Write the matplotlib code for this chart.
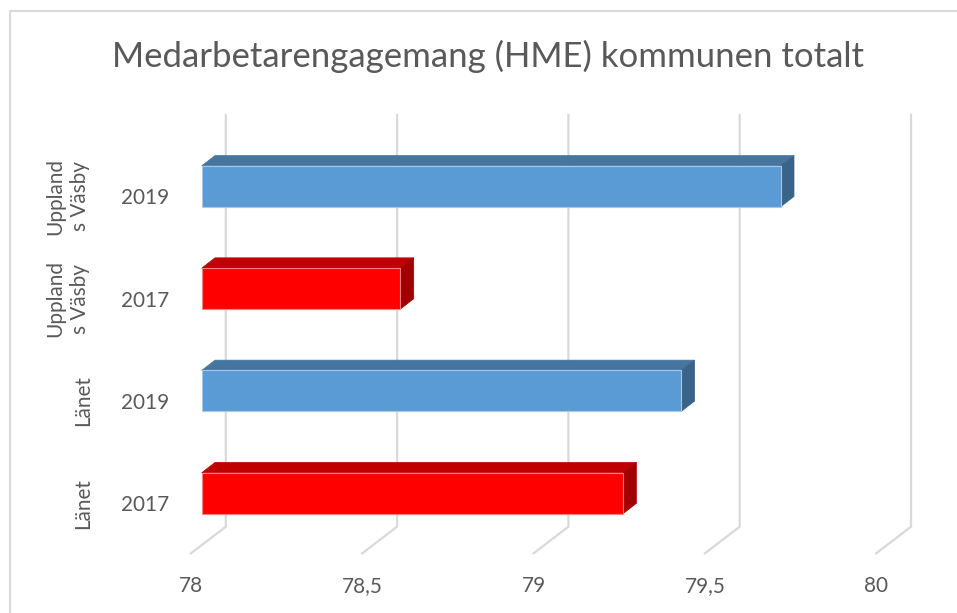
import matplotlib
matplotlib.use("Agg")
import matplotlib.pyplot as plt
from matplotlib.patches import Polygon
from matplotlib.lines import Line2D
import matplotlib.transforms as mtransforms

# ---------------- data ----------------
title = "Medarbetarengagemang (HME) kommunen totalt"
groups = ["Uppland\ns Väsby", "Uppland\ns Väsby", "Länet", "Länet"]
years = ["2019", "2017", "2019", "2017"]
values = [79.69, 78.58, 79.40, 79.23]
xticks = [78, 78.5, 79, 79.5, 80]
xtick_labels = ["78", "78,5", "79", "79,5", "80"]

# ---------------- style ----------------
FONT = "Lato"
TXT = "#595959"
GRID = "#D9D9D9"
front_cols = {"2019": "#5B9BD5", "2017": "#FF0000"}
top_cols = {"2019": "#4675A0", "2017": "#C00000"}
side_cols = {"2019": "#396389", "2017": "#A20000"}
edge_cols = {"2019": "#A9C8E8", "2017": "#FF8080"}

W, H = 957, 613
fig = plt.figure(figsize=(W / 100, H / 100), dpi=100)
ax = fig.add_axes([0, 0, 1, 1])
ax.set_axis_off()

# pixel geometry of the Excel 3-D plot area
PX_PER_UNIT = 342.6        # px per value unit
PX_PER_CAT = 102.3         # px per category step
X78_PX = 201.7             # x pixel of 78 on bar front plane
CAT0_PX = 186.3            # y pixel of first category centre
x0 = 78 - X78_PX / PX_PER_UNIT
ax.set_xlim(x0, x0 + W / PX_PER_UNIT)
ytop = -CAT0_PX / PX_PER_CAT
ax.set_ylim(ytop + H / PX_PER_CAT, ytop)

def dxu(px):
    return px / PX_PER_UNIT

def dyu(px):
    return px / PX_PER_CAT

base = 78
half = 0.2
ddx, ddy = dxu(13.3), dyu(10.3)          # bar depth
wall_dx = dxu(24.1)                       # back wall offset from bar front
floor_dx = dxu(-10.7)                     # floor front offset
grid_top = ytop + dyu(115)
grid_bot = ytop + dyu(526.7)
floor_front = ytop + dyu(553.3)

# gridlines (back wall + floor)
for v in xticks:
    ax.plot([v + wall_dx, v + wall_dx, v + floor_dx],
            [grid_top, grid_bot, floor_front],
            color=GRID, lw=1.6, solid_joinstyle="miter", zorder=1)

# bars
for i, (v, yr) in enumerate(zip(values, years)):
    yt, yb = i - half, i + half
    ax.barh(i, v - base, left=base, height=2 * half, color=front_cols[yr],
            edgecolor=edge_cols[yr], linewidth=0.8, zorder=3)
    top = Polygon([(base, yt), (v, yt), (v + ddx, yt - ddy), (base + ddx, yt - ddy)],
                  closed=True, facecolor=top_cols[yr], edgecolor=top_cols[yr],
                  linewidth=0.5, zorder=2)
    side = Polygon([(v, yt), (v, yb), (v + ddx, yb - ddy), (v + ddx, yt - ddy)],
                   closed=True, facecolor=side_cols[yr], edgecolor=side_cols[yr],
                   linewidth=0.5, zorder=2)
    ax.add_patch(top)
    ax.add_patch(side)

renderer = fig.canvas.get_renderer()

def fit_size(s, target_px, start=12, **kw):
    t = fig.text(0, 0, s, fontsize=start, family=FONT, **kw)
    w = t.get_window_extent(renderer).width
    t.remove()
    return start * target_px / w

small = fit_size("2019", 48)
title_fs = fit_size(title, 749)

# title
fig.text(487.5 / W, 1 - 67 / H, title, ha="center", va="baseline",
         fontsize=title_fs, color=TXT, family=FONT)

# x tick labels (at floor front)
for v, lab in zip(xticks, xtick_labels):
    ax.text(v + floor_dx, ytop + dyu(592), lab, ha="center", va="baseline",
            fontsize=small, color=TXT, family=FONT)

# category labels
bt = mtransforms.blended_transform_factory(fig.transFigure, ax.transData)
for i, (g, yr) in enumerate(zip(groups, years)):
    ax.text(145 / W, i + dyu(18), yr, transform=bt, ha="center", va="baseline",
            fontsize=small, color=TXT, family=FONT)
    gx = 68 if "\n" in g else 83
    ax.text(gx / W, i + dyu(10), g, transform=bt, ha="center", va="center",
            rotation=90, multialignment="center", linespacing=1.3,
            fontsize=small, color=TXT, family=FONT)

# chart border (left & top visible)
fig.add_artist(Line2D([9.5 / W, 9.5 / W, 1.01], [-0.01, 1 - 11 / H, 1 - 11 / H],
                      transform=fig.transFigure, color=GRID, lw=1.5))

fig.savefig("out.png", dpi=100)
